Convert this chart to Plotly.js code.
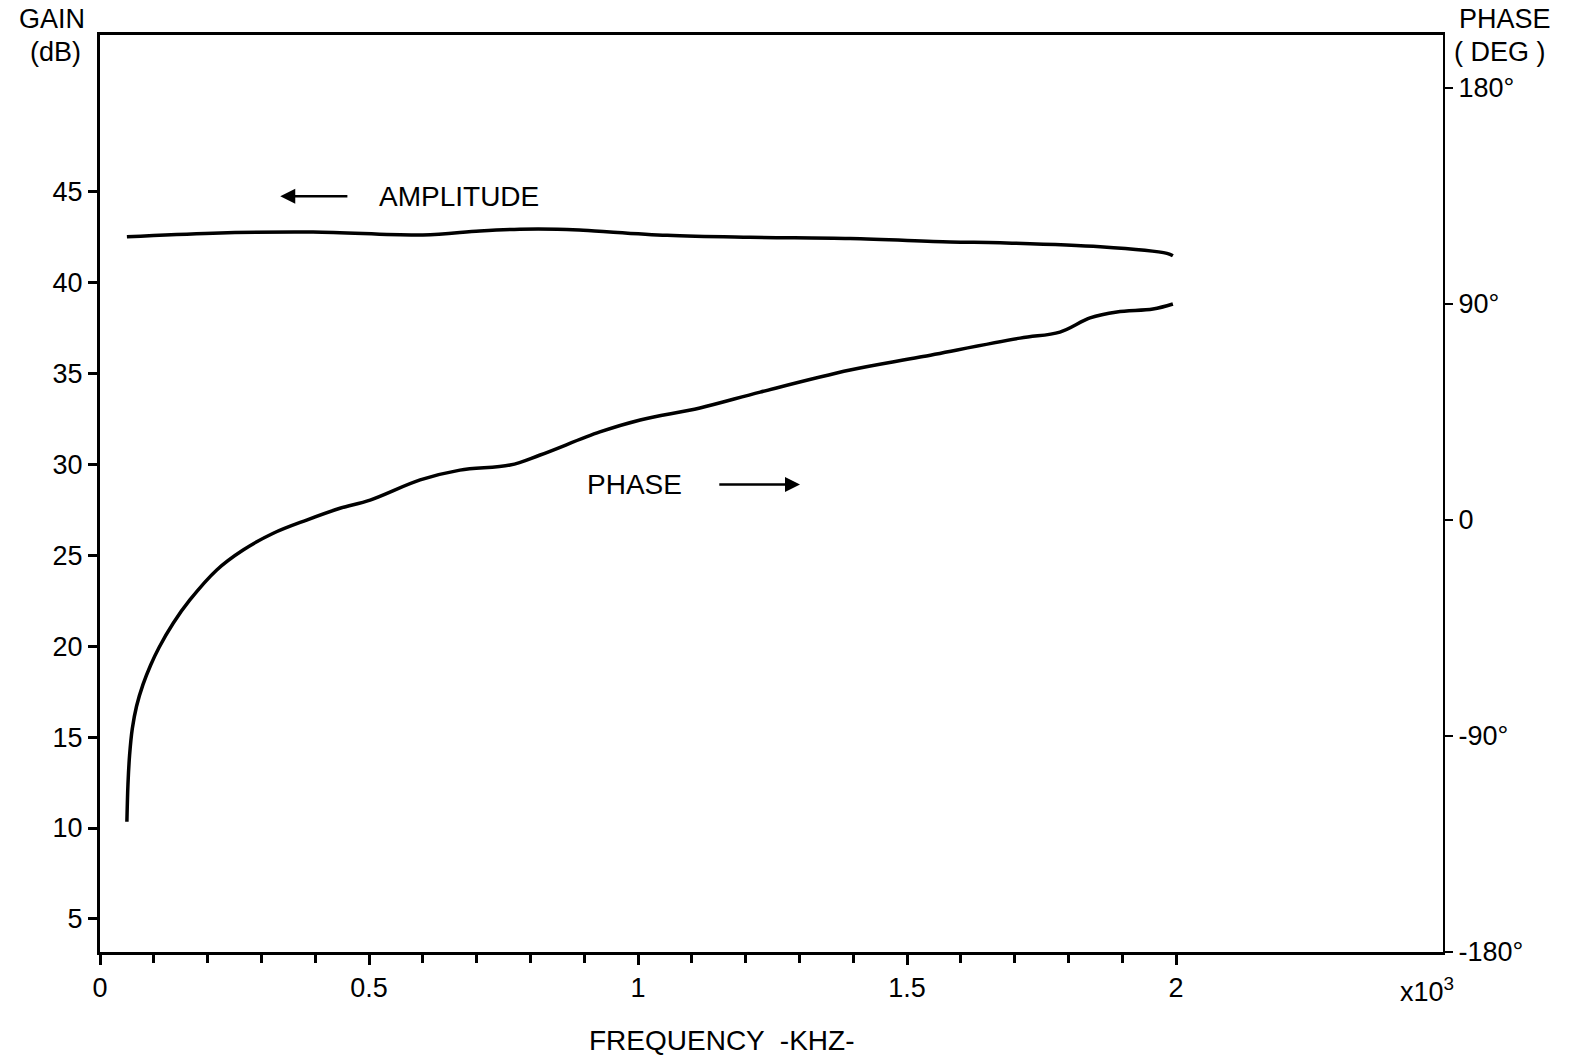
<!DOCTYPE html>
<html>
<head>
<meta charset="utf-8">
<script src="https://cdn.plot.ly/plotly-3.0.1.min.js"></script>
<style>html,body{margin:0;padding:0;background:#fff;}#chart{width:1569px;height:1060px;}</style>
</head>
<body>
<div id="chart"></div>
<script>
// Frequency in kHz (x10^3 Hz)
const ampFreq = [0.050, 0.210, 0.396, 0.600, 0.706, 0.780, 0.850, 0.898, 1.054, 1.208, 1.394, 1.580, 1.673, 1.859, 1.983, 1.994];
const ampGain = [42.52, 42.72, 42.78, 42.62, 42.84, 42.94, 42.94, 42.88, 42.60, 42.49, 42.42, 42.24, 42.19, 41.97, 41.61, 41.48];

const phaseFreq = [0.050, 0.052, 0.055, 0.060, 0.068, 0.080, 0.094, 0.110, 0.136, 0.167, 0.217, 0.266, 0.322, 0.384, 0.446, 0.502, 0.595, 0.669, 0.762, 0.818, 0.929, 1.004, 1.115, 1.227, 1.394, 1.524, 1.710, 1.784, 1.840, 1.890, 1.957, 1.994];
const phaseDeg = [-125.7, -110.0, -98.0, -87.0, -77.5, -68.5, -60.5, -53.0, -43.0, -33.3, -20.8, -12.5, -5.5, 0, 4.9, 8.3, 16.7, 20.8, 22.9, 27.1, 36.7, 41.7, 46.7, 53.3, 62.5, 67.9, 75.8, 78.3, 84.2, 86.7, 87.9, 90.0];

const xTickVals = [0, 0.5, 1, 1.5, 2];
const xTickText = ['0', '0.5', '1', '1.5', '2'];
const xMinorTickVals = [0.1, 0.2, 0.3, 0.4, 0.6, 0.7, 0.8, 0.9, 1.1, 1.2, 1.3, 1.4, 1.6, 1.7, 1.8, 1.9];
const gainTickVals = [5, 10, 15, 20, 25, 30, 35, 40, 45];
const phaseTickVals = [-180, -90, 0, 90, 180];
const phaseTickText = ['-180°', '-90°', '0', '90°', '180°'];

const FONT = 'Liberation Sans, Arial, sans-serif';
const fs = 27;

const traces = [
  {x: ampFreq, y: ampGain, type: 'scatter', mode: 'lines', name: 'AMPLITUDE',
   line: {color: '#000', width: 3.5, shape: 'spline', smoothing: 1.0}, yaxis: 'y'},
  {x: phaseFreq, y: phaseDeg, type: 'scatter', mode: 'lines', name: 'PHASE',
   line: {color: '#000', width: 3.5, shape: 'spline', smoothing: 1.0}, yaxis: 'y2'}
];

const layout = {
  width: 1569, height: 1060,
  margin: {l: 100, r: 126, t: 35, b: 108},
  paper_bgcolor: '#fff', plot_bgcolor: '#fff',
  showlegend: false,
  font: {family: FONT, size: fs, color: '#000'},
  xaxis: {
    range: [0, 2.496], showgrid: false, zeroline: false,
    showline: true, linecolor: '#000', linewidth: 3, mirror: true,
    tickmode: 'array', tickvals: xTickVals, ticktext: xTickText,
    ticks: 'outside', ticklen: 10, tickwidth: 3, tickcolor: '#000',
    minor: {tickmode: 'array', tickvals: xMinorTickVals, ticks: 'outside', ticklen: 8, tickwidth: 3, tickcolor: '#000', showgrid: false},
    tickfont: {family: FONT, size: fs}
  },
  yaxis: {
    range: [3.18, 53.62], showgrid: false, zeroline: false,
    showline: true, linecolor: '#000', linewidth: 3,
    tickmode: 'array', tickvals: gainTickVals,
    ticks: 'outside', ticklen: 9, tickwidth: 3, tickcolor: '#000',
    tickfont: {family: FONT, size: fs}
  },
  yaxis2: {
    overlaying: 'y', side: 'right',
    range: [-180, 202.1], showgrid: false, zeroline: false,
    showline: true, linecolor: '#000', linewidth: 2,
    tickmode: 'array', tickvals: phaseTickVals, ticktext: phaseTickText,
    ticks: 'outside', ticklen: 8, tickwidth: 2, tickcolor: '#000',
    tickfont: {family: FONT, size: fs}
  },
  annotations: [
    {xref: 'paper', yref: 'paper', x: -0.0357, y: 1.0175, text: 'GAIN', showarrow: false, xanchor: 'center', yanchor: 'middle', font: {size: fs}},
    {xref: 'paper', yref: 'paper', x: -0.0335, y: 0.982, text: '(dB)', showarrow: false, xanchor: 'center', yanchor: 'middle', font: {size: fs}},
    {xref: 'paper', yref: 'paper', x: 1.0462, y: 1.0175, text: 'PHASE', showarrow: false, xanchor: 'center', yanchor: 'middle', font: {size: fs}},
    {xref: 'paper', yref: 'paper', x: 1.0425, y: 0.982, text: '( DEG )', showarrow: false, xanchor: 'center', yanchor: 'middle', font: {size: fs}},
    {xref: 'paper', yref: 'paper', x: 0.988, y: -0.0414, text: 'x10<sup>3</sup>', showarrow: false, xanchor: 'center', yanchor: 'middle', font: {size: fs}},
    {xref: 'paper', yref: 'paper', x: 0.463, y: -0.096, text: 'FREQUENCY  -KHZ-', showarrow: false, xanchor: 'center', yanchor: 'middle', font: {size: 28}},
    {xref: 'x', yref: 'y', axref: 'x', ayref: 'y', ax: 0.667, ay: 44.75, x: 0.335, y: 44.75,
     text: 'AMPLITUDE', showarrow: true, arrowhead: 2, arrowsize: 1.2, arrowwidth: 2.5, arrowcolor: '#000',
     startstandoff: 30, font: {size: 28}},
    {xref: 'x', yref: 'y', axref: 'x', ayref: 'y', ax: 0.993, ay: 28.9, x: 1.301, y: 28.9,
     text: 'PHASE', showarrow: true, arrowhead: 2, arrowsize: 1.2, arrowwidth: 2.5, arrowcolor: '#000',
     startstandoff: 36, font: {size: 28}}
  ]
};

Plotly.newPlot('chart', traces, layout, {staticPlot: true, displayModeBar: false});
</script>
</body>
</html>
